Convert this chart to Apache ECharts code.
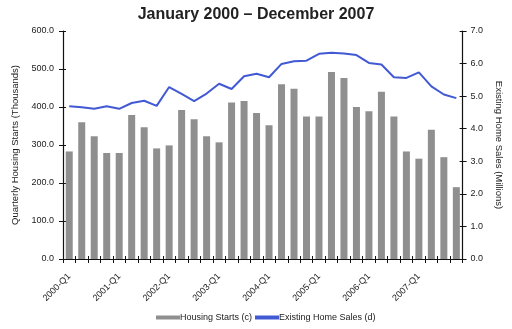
<!DOCTYPE html>
<html>
<head>
<meta charset="utf-8">
<script src="https://cdn.jsdelivr.net/npm/echarts@6/dist/echarts.min.js"></script>
<style>
  html, body { margin: 0; padding: 0; background: #fff; }
  #chart { width: 512px; height: 329px; }
</style>
</head>
<body>
<div id="chart"></div>
<script>
// Quarters 2000-Q1 .. 2007-Q4
const quarters = [];
for (let y = 2000; y <= 2007; y++) {
  for (let q = 1; q <= 4; q++) quarters.push(y + '-Q' + q);
}

// Quarterly housing starts, thousands (left axis)
const housingStarts = [
  283, 360, 323, 279, 279, 379, 347, 291,
  299, 392, 368, 323, 307, 412, 416, 384,
  352, 460, 448, 375, 375, 492, 476, 400,
  389, 440, 375, 283, 264, 340, 268, 189
];

// Existing home sales, millions (right axis)
const homeSales = [
  4.69, 4.66, 4.61, 4.69, 4.61, 4.79, 4.86, 4.70,
  5.28, 5.07, 4.85, 5.08, 5.38, 5.22, 5.61, 5.69,
  5.58, 5.99, 6.07, 6.09, 6.30, 6.33, 6.31, 6.26,
  6.02, 5.97, 5.58, 5.56, 5.73, 5.30, 5.05, 4.94
];

const FONT = 'Liberation Sans';
const INK = '#1a1a1a';
const BLUE = '#4259d4';
const axisLine = { show: true, lineStyle: { color: '#111', width: 1.2 } };
const outerTick = { show: true, length: 4, lineStyle: { color: '#111' } };
const innerTick = { show: true, inside: true, length: 3, lineStyle: { color: '#111' } };

const chart = echarts.init(document.getElementById('chart'), null, { renderer: 'canvas' });
chart.setOption({
  animation: false,
  textStyle: { fontFamily: FONT },
  title: {
    text: 'January 2000 \u2013 December 2007',
    left: 'center',
    top: 2,
    textStyle: { fontSize: 16, fontWeight: 'bold', color: '#222', fontFamily: FONT }
  },
  legend: {
    bottom: 2,
    left: 151,
    itemGap: 3,
    itemWidth: 24,
    itemHeight: 4,
    textStyle: { fontSize: 9, color: INK, padding: [0, 0, 0, -5] },
    data: [
      { name: 'Housing Starts (c)', icon: 'rect' },
      { name: 'Existing Home Sales (d)', icon: 'rect' }
    ]
  },
  grid: { left: 63, right: 46, top: 31, bottom: 70 },
  xAxis: [
    {
      type: 'category',
      data: quarters,
      boundaryGap: true,
      axisLine: axisLine,
      axisTick: Object.assign({ interval: 0 }, outerTick),
      axisLabel: {
        interval: 3, rotate: 45, fontSize: 9, color: INK, margin: 16
      }
    },
    {
      // inner half of the crossing ticks
      type: 'category',
      data: quarters,
      position: 'bottom',
      boundaryGap: true,
      axisLine: { show: false },
      axisTick: Object.assign({ interval: 0 }, innerTick),
      axisLabel: { show: false }
    }
  ],
  yAxis: [
    {
      type: 'value',
      min: 0, max: 600, interval: 100,
      position: 'left',
      name: 'Quarterly Housing Starts (Thousands)',
      nameLocation: 'middle',
      nameGap: 40,
      nameTextStyle: { fontSize: 9.5, color: INK },
      axisLine: axisLine,
      axisTick: outerTick,
      axisLabel: { fontSize: 9, color: INK, margin: 9, formatter: v => v.toFixed(1) },
      splitLine: { show: false }
    },
    {
      type: 'value',
      min: 0, max: 7, interval: 1,
      position: 'right',
      name: 'Existing Home Sales (Millions)',
      nameLocation: 'middle',
      nameRotate: -90,
      nameGap: 27,
      nameTextStyle: { fontSize: 9.5, color: INK },
      axisLine: axisLine,
      axisTick: outerTick,
      axisLabel: { fontSize: 9, color: INK, margin: 8, formatter: v => v.toFixed(1) },
      splitLine: { show: false }
    },
    {
      type: 'value',
      min: 0, max: 600, interval: 100,
      position: 'left',
      axisLine: { show: false },
      axisTick: innerTick,
      axisLabel: { show: false },
      splitLine: { show: false }
    },
    {
      type: 'value',
      min: 0, max: 7, interval: 1,
      position: 'right',
      axisLine: { show: false },
      axisTick: innerTick,
      axisLabel: { show: false },
      splitLine: { show: false }
    }
  ],
  series: [
    {
      name: 'Housing Starts (c)',
      type: 'bar',
      yAxisIndex: 0,
      barWidth: 7,
      itemStyle: { color: '#8f8f8f' },
      data: housingStarts
    },
    {
      name: 'Existing Home Sales (d)',
      type: 'line',
      yAxisIndex: 1,
      symbol: 'none',
      lineStyle: { color: BLUE, width: 2 },
      itemStyle: { color: BLUE },
      data: homeSales
    }
  ]
});
</script>
</body>
</html>
